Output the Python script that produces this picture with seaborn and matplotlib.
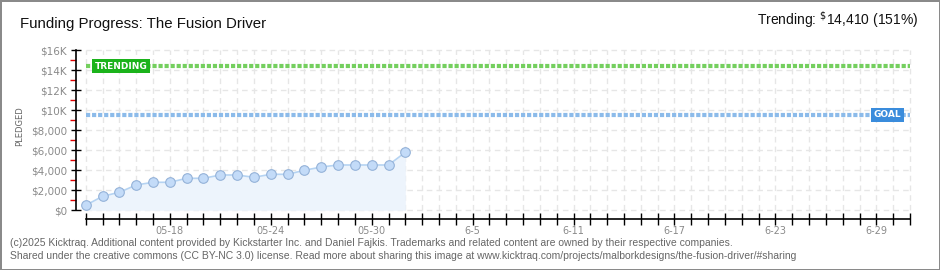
import matplotlib
matplotlib.use("Agg")
import matplotlib.pyplot as plt
import matplotlib.dates as mdates
import seaborn as sns
import pandas as pd
import numpy as np

# ---- data ----
dates = pd.date_range("2025-05-13", "2025-06-01", freq="D")
pledged = [500, 1400, 1800, 2530, 2800, 2800, 3200, 3200, 3530, 3530,
           3300, 3600, 3600, 4000, 4330, 4530, 4530, 4530, 4530, 5800]
axis_start = "2025-05-13"
axis_end = "2025-07-01"
trending = 14410
goal = 9540
x_tick_dates = ["2025-05-18", "2025-05-24", "2025-05-30", "2025-06-05",
                "2025-06-11", "2025-06-17", "2025-06-23", "2025-06-29"]
x_tick_labels = ["05-18", "05-24", "05-30", "6-5", "6-11", "6-17", "6-23", "6-29"]
y_ticks = [0, 2000, 4000, 6000, 8000, 10000, 12000, 14000, 16000]
y_tick_labels = ["$0", "$2,000", "$4,000", "$6,000", "$8,000", "$10K", "$12K", "$14K", "$16K"]
title = "Funding Progress: The Fusion Driver"
footer1 = ("(c)2025 Kicktraq. Additional content provided by Kickstarter Inc. and Daniel Fajkis. "
           "Trademarks and related content are owned by their respective companies.")
footer2 = ("Shared under the creative commons (CC BY-NC 3.0) license. Read more about sharing this image at "
           "www.kicktraq.com/projects/malborkdesigns/the-fusion-driver/#sharing")

df = pd.DataFrame({"date": dates, "pledged": pledged})

sns.set_theme(style="white")
plt.rcParams["font.family"] = ["DejaVu Sans"]
plt.rcParams["xtick.bottom"] = True
plt.rcParams["ytick.left"] = True

SANS = ["Liberation Sans", "DejaVu Sans"]

fig = plt.figure(figsize=(9.4, 2.7), dpi=100, facecolor="white",
                 edgecolor="#8a8a8a", linewidth=2)
ax = fig.add_axes([76 / 940, (270 - 219) / 270, (912 - 76) / 940, (219 - 48) / 270])
ax.set_facecolor("white")

x0 = mdates.date2num(pd.Timestamp(axis_start))
x1 = mdates.date2num(pd.Timestamp(axis_end))
px_per_day = (910 - 85.7) / (x1 - x0)
ax.set_xlim(x0 - (85.7 - 76) / px_per_day, x1 + 2 / px_per_day)
ax.set_ylim(-870, 16230)

# grid (within data region only)
all_days = pd.date_range(axis_start, axis_end, freq="D")
ax.vlines(mdates.date2num(all_days), 0, 16000, colors="#e6e6e6", linewidth=1,
          linestyles=(0, (4, 3)), zorder=0)
ax.hlines(y_ticks, x0, x1, colors="#e6e6e6", linewidth=1,
          linestyles=(0, (4, 3)), zorder=0)

# trending & goal lines
ax.hlines([trending], x0, x1, colors="#74cf5e", linewidth=3,
          linestyles=(0, (1, 0.45)), zorder=2)
ax.hlines([goal], x0, x1, colors="#8cbbea", linewidth=3,
          linestyles=(0, (1, 0.45)), zorder=2)
ax.text(x0 + 0.55, trending, "TRENDING", color="white", fontsize=6.5, fontweight="bold",
        ha="left", va="center", zorder=5,
        bbox=dict(boxstyle="square,pad=0.3", fc="#1bb31b", ec="none"))
ax.text(x1 - 0.5, goal, "GOAL", color="white", fontsize=6.5, fontweight="bold",
        ha="right", va="center", zorder=5,
        bbox=dict(boxstyle="square,pad=0.3", fc="#3a8cdc", ec="none"))

# series
xn = mdates.date2num(df["date"])
ax.fill_between(xn, 0, df["pledged"], color="#edf4fc", zorder=1, linewidth=0)
sns.lineplot(data=df, x="date", y="pledged", ax=ax, color="#b5d3f2", linewidth=1.2, zorder=3)
sns.scatterplot(data=df, x="date", y="pledged", ax=ax, color="#c3dbf8", edgecolor="#94b2d8",
                linewidth=0.8, s=48, zorder=4)

# axes styling
for s in ["top", "right"]:
    ax.spines[s].set_visible(False)
ax.spines["left"].set_bounds(0, 16000)
ax.spines["left"].set_color("black")
ax.spines["left"].set_linewidth(1.2)
ax.spines["bottom"].set_bounds(x0, x1)
ax.spines["bottom"].set_color("black")
ax.spines["bottom"].set_linewidth(1.2)

ax.set_xticks(mdates.date2num(all_days))
lab_map = {mdates.date2num(pd.Timestamp(d)): l for d, l in zip(x_tick_dates, x_tick_labels)}
ax.set_xticklabels([lab_map.get(v, "") for v in mdates.date2num(all_days)])
ax.tick_params(axis="x", which="major", bottom=True, direction="inout", length=8, width=1,
               color="black", labelsize=7, labelcolor="#8a8a8a", pad=1)

ax.set_yticks(y_ticks)
ax.set_yticklabels(y_tick_labels)
ax.set_yticks(np.arange(1000, 16000, 2000), minor=True)
ax.tick_params(axis="y", which="major", left=True, direction="inout", length=7, width=1,
               color="black", labelsize=7.5, labelcolor="#8a8a8a", pad=3)
ax.tick_params(axis="y", which="minor", left=True, direction="out", length=4, width=1,
               color="#e00000")

ax.set_xlabel("")
ax.set_ylabel("")
if ax.get_legend():
    ax.get_legend().remove()

fig.text(20 / 940, 1 - 126 / 270, "PLEDGED", rotation=90, fontsize=6, color="#666666",
         ha="center", va="center")

fig.text(20 / 940, 1 - 24 / 270, title, fontsize=10.8, color="#111111", ha="left", va="center",
         family=SANS)
fig.text(918 / 940, 1 - 20 / 270, r"Trending: $^{\$}$14,410 (151%)", fontsize=10,
         color="#111111", ha="right", va="center", family=SANS)

fig.text(10 / 940, 1 - 243 / 270, footer1, fontsize=7.5, color="#666666", ha="left", va="center",
         family=SANS)
fig.text(10 / 940, 1 - 256 / 270, footer2, fontsize=7.5, color="#666666", ha="left", va="center",
         family=SANS)

fig.savefig("out.png", dpi=100, facecolor="white", edgecolor="#8a8a8a")
